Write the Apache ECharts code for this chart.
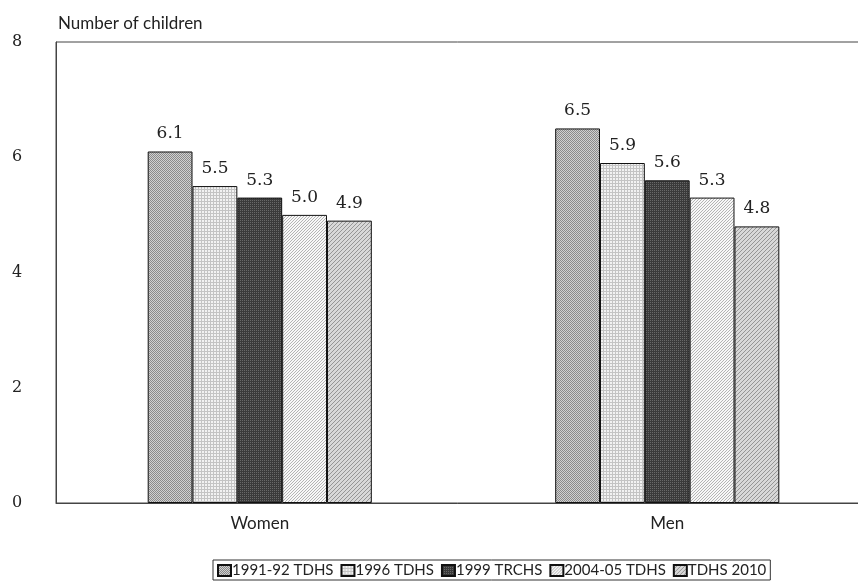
<!DOCTYPE html>
<html>
<head>
<meta charset="utf-8">
<script src="https://cdn.jsdelivr.net/npm/echarts@6/dist/echarts.min.js"></script>
<style>html,body{margin:0;padding:0;background:#fff;overflow:hidden}#c{width:858px;height:583px}</style>
</head>
<body>
<div id="c"></div>
<script>
var categories = ['Women', 'Men'];
var seriesNames = ['1991-92 TDHS', '1996 TDHS', '1999 TRCHS', '2004-05 TDHS', 'TDHS 2010'];
var s1991 = [6.1, 6.5];
var s1996 = [5.5, 5.9];
var s1999 = [5.3, 5.6];
var s2004 = [5.0, 5.3];
var s2010 = [4.9, 4.8];
var yTicks = [0, 2, 4, 6, 8];

function makePattern(size, bg, fg, pts) {
  var c = document.createElement('canvas');
  c.width = size; c.height = size;
  var ctx = c.getContext('2d');
  ctx.fillStyle = bg; ctx.fillRect(0, 0, size, size);
  ctx.fillStyle = fg;
  pts.forEach(function (p) { ctx.fillRect(p[0], p[1], 1, 1); });
  return { image: c, repeat: 'repeat' };
}
var pats = [
  makePattern(2, '#d0d0d0', '#8a8a8a', [[0,0],[1,1]]),
  makePattern(3, '#f2f2f2', '#c4c4c4', [[0,0],[1,0],[2,0],[0,1],[0,2]]),
  makePattern(2, '#3a3a3a', '#686868', [[0,0]]),
  makePattern(3, '#f8f8f8', '#b4b4b4', [[0,0],[2,1],[1,2]]),
  makePattern(4, '#d8d8d8', '#959595', [[3,0],[2,1],[1,2],[0,3]])
];
var data = [s1991, s1996, s1999, s2004, s2010];

var chart = echarts.init(document.getElementById('c'));
chart.setOption({
  animation: false,
  backgroundColor: '#fff',
  grid: { left: 56, right: -13, top: 42, bottom: 80, show: true, borderColor: '#444', borderWidth: 1,
    containLabel: false, outerBoundsMode: 'none' },
  legend: {
    data: seriesNames,
    left: 213, bottom: 3,
    borderColor: '#333', borderWidth: 1,
    padding: [3, 4, 2, 4],
    itemGap: 7, itemWidth: 13, itemHeight: 11,
    textStyle: { fontFamily: 'Lato', fontSize: 15, color: '#222', padding: [0, 0, 0, -4] },
    icon: 'rect'
  },
  xAxis: {
    type: 'category', data: categories,
    axisLine: { lineStyle: { color: '#444', width: 1 } },
    axisTick: { show: false },
    axisLabel: { fontFamily: 'Lato', fontSize: 17, color: '#222', margin: 12 }
  },
  yAxis: {
    type: 'value', min: 0, max: 8, interval: 2,
    name: 'Number of children',
    nameLocation: 'end', nameGap: 10,
    nameTextStyle: { fontFamily: 'Lato', fontSize: 17, color: '#222', align: 'left', padding: [0, 0, 0, 2] },
    axisLine: { show: true, lineStyle: { color: '#444', width: 1 } },
    axisTick: { show: false },
    splitLine: { show: false },
    axisLabel: { fontFamily: 'DejaVu Serif', fontSize: 16, color: '#222', align: 'left', margin: 44,
      formatter: function (v) { return yTicks.indexOf(v) >= 0 ? String(v) : ''; } }
  },
  series: seriesNames.map(function (n, i) {
    return {
      name: n, type: 'bar', data: data[i],
      barGap: 0, barCategoryGap: '45%',
      itemStyle: { color: pats[i], borderColor: '#111', borderWidth: 1 },
      label: { show: true, position: 'top', distance: 9, fontFamily: 'DejaVu Serif', fontSize: 17, color: '#222',
        formatter: function (p) { return p.value.toFixed(1); } }
    };
  })
});
</script>
</body>
</html>
